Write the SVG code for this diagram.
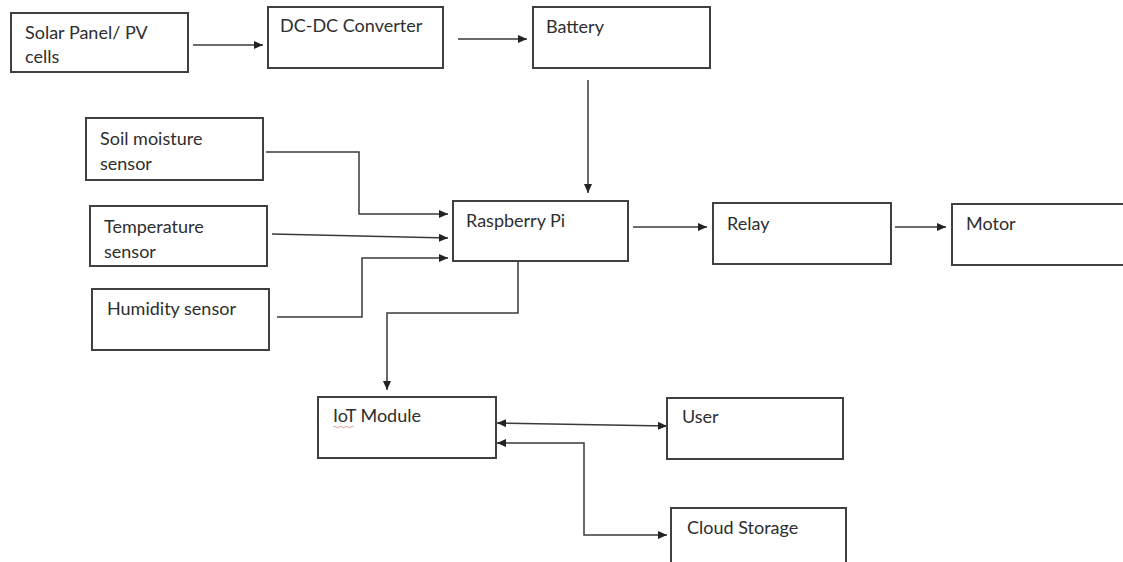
<svg xmlns="http://www.w3.org/2000/svg" width="1123" height="562" viewBox="0 0 1123 562">
  <style>
    .box { fill: #ffffff; stroke: #404040; stroke-width: 2; }
    .lbl { font-family: Lato, "Open Sans", "Liberation Sans", sans-serif; font-size: 18px; fill: #2e2e2e; }
    .con { fill: none; stroke: #3a3a3a; stroke-width: 1.5; }
  </style>
  <defs>
    <marker id="ah" markerUnits="userSpaceOnUse" markerWidth="10" markerHeight="8" refX="9" refY="4" orient="auto-start-reverse">
      <path d="M0,0 L9,4 L0,8 z" fill="#222222"/>
    </marker>
  </defs>
  <rect width="1123" height="562" fill="#ffffff"/>

  <g id="connectors">
    <path class="con" d="M193,45 H263" marker-end="url(#ah)"/>
    <path class="con" d="M458,39 H527" marker-end="url(#ah)"/>
    <path class="con" d="M588,80 V193" marker-end="url(#ah)"/>
    <path class="con" d="M266,152 H359 V214 H448" marker-end="url(#ah)"/>
    <path class="con" d="M272,234 L448,238" marker-end="url(#ah)"/>
    <path class="con" d="M277,317 H362 V258 H448" marker-end="url(#ah)"/>
    <path class="con" d="M633,227 H707" marker-end="url(#ah)"/>
    <path class="con" d="M895,227 H946" marker-end="url(#ah)"/>
    <path class="con" d="M518,262 V313 H387 V390" marker-end="url(#ah)"/>
    <path class="con" d="M497,423 L667,426" marker-start="url(#ah)" marker-end="url(#ah)"/>
    <path class="con" d="M497,443 H584 V535 H667" marker-start="url(#ah)" marker-end="url(#ah)"/>
  </g>

  <g id="solar">
    <rect class="box" x="11" y="13" width="177" height="59"/>
    <text class="lbl" x="25" y="39">Solar Panel/ PV</text>
    <text class="lbl" x="25" y="63">cells</text>
  </g>
  <g id="dcdc">
    <rect class="box" x="268" y="7" width="175" height="61"/>
    <text class="lbl" x="280" y="32">DC-DC Converter</text>
  </g>
  <g id="battery">
    <rect class="box" x="533" y="7" width="177" height="61"/>
    <text class="lbl" x="546" y="33">Battery</text>
  </g>
  <g id="soil">
    <rect class="box" x="86" y="118" width="177" height="62"/>
    <text class="lbl" x="100" y="145">Soil moisture</text>
    <text class="lbl" x="100" y="170">sensor</text>
  </g>
  <g id="temperature">
    <rect class="box" x="90" y="206" width="177" height="60"/>
    <text class="lbl" x="104" y="233">Temperature</text>
    <text class="lbl" x="104" y="258">sensor</text>
  </g>
  <g id="humidity">
    <rect class="box" x="92" y="289" width="177" height="61"/>
    <text class="lbl" x="107" y="315">Humidity sensor</text>
  </g>
  <g id="raspberry">
    <rect class="box" x="453" y="201" width="175" height="60"/>
    <text class="lbl" x="466" y="227">Raspberry Pi</text>
  </g>
  <g id="relay">
    <rect class="box" x="713" y="203" width="178" height="61"/>
    <text class="lbl" x="727" y="230">Relay</text>
  </g>
  <g id="motor">
    <rect class="box" x="952" y="204" width="180" height="61"/>
    <text class="lbl" x="966" y="230">Motor</text>
  </g>
  <g id="iot">
    <rect class="box" x="318" y="397" width="178" height="61"/>
    <text class="lbl" x="333" y="422">IoT Module</text>
    <path d="M333,427 q1.5,-1.5 3,0 t3,0 t3,0 t3,0 t3,0 t3,0 t3,0" fill="none" stroke="#d98080" stroke-width="0.8"/>
  </g>
  <g id="user">
    <rect class="box" x="667" y="398" width="176" height="61"/>
    <text class="lbl" x="682" y="423">User</text>
  </g>
  <g id="cloud">
    <rect class="box" x="671" y="508" width="175" height="60"/>
    <text class="lbl" x="687" y="534">Cloud Storage</text>
  </g>
</svg>
